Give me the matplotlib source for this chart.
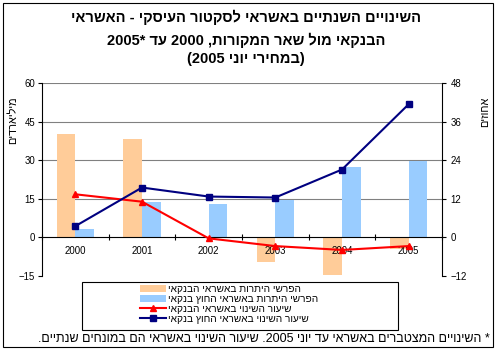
import re
import numpy as np
import matplotlib
matplotlib.use('Agg')
import matplotlib.pyplot as plt
from matplotlib.patches import Rectangle

plt.rcParams['font.family'] = ['Liberation Sans', 'DejaVu Sans']

# data
years = ['2000', '2001', '2002', '2003', '2004', '2005']
bank_diff = [40.0, 38.1, 0.0, -9.6, -14.5, -4.7]        # billions, left axis
nonbank_diff = [3.1, 13.7, 12.8, 14.6, 27.5, 29.5]      # billions, left axis
bank_rate = [13.4, 11.1, -0.3, -2.7, -3.9, -2.7]        # percent, right axis
nonbank_rate = [3.5, 15.5, 12.7, 12.4, 21.1, 41.4]      # percent, right axis
left_ticks = [-15, 0, 15, 30, 45, 60]
right_ticks = [-12, 0, 12, 24, 36, 48]

title_lines = ['השינויים השנתיים באשראי לסקטור העיסקי - האשראי',
               'הבנקאי מול שאר המקורות, 2000 עד *2005',
               '(במחירי יוני 2005)']
legend_labels = ['הפרשי היתרות באשראי הבנקאי',
                 'הפרשי היתרות באשראי החוץ בנקאי',
                 'שיעור השינוי באשראי הבנקאי',
                 'שיעור השינוי באשראי החוץ בנקאי']
left_label = 'מיליארדים'
right_label = 'אחוזים'
footnote = '* השינויים המצטברים באשראי עד יוני 2005. שיעור השינוי באשראי הם במונחים שנתיים.'


def heb(s):
    # simple visual ordering: reverse, keep numbers LTR, mirror brackets
    r = s[::-1]
    r = re.sub(r'[0-9]+', lambda m: m.group(0)[::-1], r)
    return r.translate(str.maketrans('()', ')('))


W, H = 498, 355
fx = lambda x: x / W
fy = lambda y: 1 - y / H

fig = plt.figure(figsize=(W / 100, H / 100), dpi=100)
fig.patch.set_facecolor('white')

# outer frame
fig.add_artist(Rectangle((fx(3), fy(347)), fx(490), (347 - 3) / H, transform=fig.transFigure,
                         fill=False, edgecolor='black', linewidth=0.8))

ax = fig.add_axes([fx(42), fy(276), 400 / W, (276 - 83) / H])
ax.set_axisbelow(False)
x = np.arange(len(years))
w = 0.28

for g in [15, 30, 45, 60]:
    ax.axhline(g, color='#808080', linewidth=0.8, zorder=0)

b1 = ax.bar(x - w / 2, bank_diff, w, color='#FFCC99', zorder=1)
b2 = ax.bar(x + w / 2, nonbank_diff, w, color='#99CCFF', zorder=1)

ax.set_xlim(-0.5, 5.5)
ax.set_ylim(-15, 60)
ax.set_yticks(left_ticks)
ax.spines['bottom'].set_position(('data', 0))
ax.spines['top'].set_visible(False)
ax.spines['right'].set_visible(False)
ax.set_xticks(np.arange(-0.5, 6, 1))
ax.set_xticklabels([])
ax.set_xticks(x, minor=True)
ax.set_xticklabels(years, minor=True)
ax.tick_params(axis='x', which='major', direction='inout', length=5, width=0.8)
ax.tick_params(axis='x', which='minor', length=0, pad=6.5, labelsize=6.9)
ax.tick_params(axis='y', direction='out', length=3, width=0.8, labelsize=6.9, pad=2)

ax2 = ax.twinx()
l1, = ax2.plot(x, bank_rate, color='#FF0000', marker='^', markersize=4.5, linewidth=1.5)
l2, = ax2.plot(x, nonbank_rate, color='#000080', marker='s', markersize=4, linewidth=1.5)
ax2.set_ylim(-12, 48)
ax2.set_yticks(right_ticks)
for s in ['top', 'bottom', 'left']:
    ax2.spines[s].set_visible(False)
ax2.tick_params(axis='y', direction='out', length=3, width=0.8, labelsize=6.9, pad=3)

# titles
for txt, yy in zip(title_lines, [17, 40, 59]):
    fig.text(fx(246), fy(yy), heb(txt), ha='center', va='center', fontsize=10.5, fontweight='bold')

fig.text(fx(13), fy(96), heb(left_label), rotation=90, ha='center', va='top', fontsize=7.8)
fig.text(fx(485), fy(97), heb(right_label), rotation=90, ha='center', va='top', fontsize=7.8)

# legend box
fig.add_artist(Rectangle((fx(82), fy(330)), (398 - 82) / W, (330 - 282) / H, transform=fig.transFigure,
                         facecolor='white', edgecolor='black', linewidth=0.8))
fig.legend([b1, b2, l1, l2], [heb(t) for t in legend_labels], loc='upper left',
           bbox_to_anchor=(fx(140), fy(284)), frameon=False, fontsize=7.3,
           handlelength=2.6, handletextpad=0.2, labelspacing=0.0, borderpad=0, borderaxespad=0)

fig.text(fx(490), fy(339), heb(footnote), ha='right', va='center', fontsize=9)

fig.savefig('out.png', dpi=100)
